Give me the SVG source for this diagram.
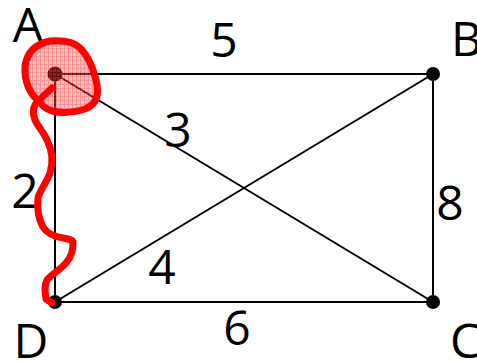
<svg xmlns="http://www.w3.org/2000/svg" width="477" height="362" viewBox="0 0 477 362">
<style>
.edge{stroke:#000;stroke-width:2;fill:none}
.dot{fill:#000}
.lbl{font-family:"Open Sans","DejaVu Sans",sans-serif;font-size:48px;fill:#000}
.ink{stroke:#ff0000;stroke-width:7;fill:none;stroke-linecap:round;stroke-linejoin:round}
</style>
<defs>
<pattern id="hatch" width="4" height="4" patternUnits="userSpaceOnUse">
<rect width="4" height="4" fill="#ff6a6a"/>
<rect width="4" height="1" fill="#ff1010"/>
<rect width="1" height="4" fill="#ff1010"/>
</pattern>
</defs>
<rect width="477" height="362" fill="#fff"/>
<g id="connectors">
<line class="edge" x1="55" y1="74" x2="433" y2="74"/>
<line class="edge" x1="55" y1="74" x2="55" y2="302"/>
<line class="edge" x1="55" y1="302" x2="433" y2="302"/>
<line class="edge" x1="433" y1="74" x2="433" y2="302"/>
<line class="edge" x1="55" y1="74" x2="433" y2="302"/>
<line class="edge" x1="55" y1="302" x2="433" y2="74"/>
<text class="lbl" x="224" y="57" text-anchor="middle">5</text>
<text class="lbl" x="178" y="147" text-anchor="middle">3</text>
<text class="lbl" x="25" y="208" text-anchor="middle">2</text>
<text class="lbl" x="162" y="284" text-anchor="middle">4</text>
<text class="lbl" x="237" y="345" text-anchor="middle">6</text>
<text class="lbl" x="450" y="220" text-anchor="middle">8</text>
</g>
<g id="node-A">
<circle class="dot" cx="55" cy="74" r="7.5"/>
<text class="lbl" x="28" y="42" text-anchor="middle">A</text>
</g>
<g id="node-B">
<circle class="dot" cx="433" cy="74" r="7"/>
<text class="lbl" x="451" y="56">B</text>
</g>
<g id="node-C">
<circle class="dot" cx="433" cy="302" r="7"/>
<text class="lbl" x="450" y="358">C</text>
</g>
<g id="node-D">
<circle class="dot" cx="55" cy="302" r="7"/>
<text class="lbl" x="31" y="358" text-anchor="middle">D</text>
</g>
<g id="annotation">
<path d="M40,102 C30,95 24,82 25,66 C27,52 36,44 50,41 C62,40 74,42 80,48 C88,56 94,70 97,85 C99,97 95,105 85,109 C72,113 60,113 52,111 C46,109 42,106 40,102 Z" fill="url(#hatch)" fill-opacity="0.45"/>
<path class="ink" d="M40,102 C30,95 24,82 25,66 C27,52 36,44 50,41 C62,40 74,42 80,48 C88,56 94,70 97,85 C99,97 95,105 85,109 C72,113 60,113 52,111 C46,109 42,106 40,102"/>
<path class="ink" d="M52,88 L38,101 C33,106 32,112 35,120 C38,127 43,131 47,140 C52,150 54,160 50,173 C46,184 40,190 38,198 C37,208 38,218 43,227 C48,235 56,237 63,238 C68,239 73,240 73,242 C73,250 72,256 66,263 C60,270 52,274 47,280 C44,285 45,292 46,299 L52,303"/>
</g>
</svg>
